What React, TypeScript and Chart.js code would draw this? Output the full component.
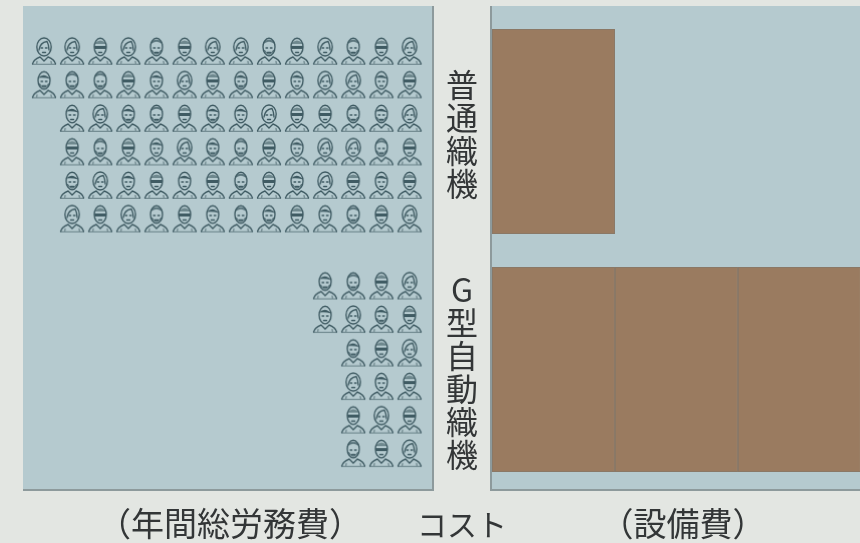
import React, { useEffect, useRef } from "react";
import { Chart, registerables } from "chart.js";

Chart.register(...registerables);

// Labour rows: each digit list is one row, one worker per entry, codes pick the portrait.
const plainLoomRows = [
  [1, 1, 2, 1, 4, 2, 1, 1, 4, 2, 1, 4, 2, 1],
  [0, 4, 4, 2, 3, 1, 2, 0, 2, 3, 1, 1, 3, 2],
  [3, 1, 0, 4, 2, 0, 3, 1, 2, 2, 4, 0, 1],
  [2, 4, 2, 3, 1, 0, 4, 2, 3, 1, 1, 4, 2],
  [0, 1, 3, 2, 3, 2, 4, 2, 0, 1, 2, 3, 2],
  [1, 2, 1, 4, 2, 3, 4, 0, 2, 3, 4, 2, 1],
];
const autoLoomRows = [
  [0, 4, 2, 1],
  [3, 1, 0, 2],
  [0, 2, 1],
  [1, 3, 2],
  [2, 1, 2],
  [4, 2, 1],
];
const groupGapRows = 1;

const loomCategories = [
  ["普", "通", "織", "機"],
  ["G", "型", "自", "動", "織", "機"],
];
const equipmentUnits = [1, 3];

const labourTitle = "（年間総労務費）";
const equipmentTitle = "（設備費）";
const costLabel = "コスト";

const PAGE = "#e3e6e2";
const PANEL = "#b5cacf";
const BAR = "#9a7b60";
const BAR_EDGE = "#8a7866";
const INK = "#333637";
const FONT = '"Noto Sans CJK JP", "Noto Sans", sans-serif';

function makeIcon(variant: number) {
  const c = document.createElement("canvas");
  c.width = 28;
  c.height = 30;
  const g = c.getContext("2d")!;
  g.strokeStyle = "#3f5b63";
  g.fillStyle = "#3f5b63";
  g.lineWidth = 1.35;
  g.lineCap = "round";
  const cx = 14;
  // shoulders
  g.beginPath();
  g.moveTo(2.5, 28);
  g.quadraticCurveTo(3.5, 23.5, 10, 21);
  g.lineTo(14, 25);
  g.lineTo(18, 21);
  g.quadraticCurveTo(24.5, 23.5, 25.5, 28);
  g.stroke();
  g.beginPath();
  g.moveTo(6.5, 28);
  g.lineTo(7, 25.5);
  g.moveTo(21.5, 28);
  g.lineTo(21, 25.5);
  g.moveTo(3, 28.3);
  g.lineTo(25, 28.3);
  g.globalAlpha = 0.55;
  g.stroke();
  g.globalAlpha = 1;
  // head
  g.beginPath();
  g.ellipse(cx, 11, variant === 1 ? 7.2 : 6, variant === 1 ? 9 : 8.8, 0, 0, Math.PI * 2);
  g.stroke();
  // face inner
  g.beginPath();
  g.moveTo(cx - 3, 12);
  g.lineTo(cx - 1.4, 12);
  g.moveTo(cx + 1.4, 12);
  g.lineTo(cx + 3, 12);
  g.moveTo(cx - 1.5, 16.5);
  g.lineTo(cx + 1.5, 16.5);
  g.stroke();
  if (variant === 0 || variant === 3) {
    g.beginPath();
    g.moveTo(cx - 6, 8.5);
    g.quadraticCurveTo(cx, 2.5, cx + 6, 9.5);
    g.quadraticCurveTo(cx, 7.5, cx - 6, 8.5);
    g.fill();
  }
  if (variant === 1) {
    g.beginPath();
    g.moveTo(cx - 5, 14);
    g.quadraticCurveTo(cx - 4, 6.5, cx + 3, 5.5);
    g.quadraticCurveTo(cx + 5, 9, cx + 5, 14);
    g.stroke();
  }
  if (variant === 2) {
    g.beginPath();
    g.moveTo(cx - 6.4, 8);
    g.quadraticCurveTo(cx, 1, cx + 6.4, 8);
    g.closePath();
    g.globalAlpha = 0.6;
    g.fill();
    g.globalAlpha = 1;
    g.fillRect(cx - 6, 10, 12, 3);
  }
  if (variant === 0 || variant === 4) {
    g.beginPath();
    g.moveTo(cx - 4.5, 14.5);
    g.quadraticCurveTo(cx, 21.5, cx + 4.5, 14.5);
    g.globalAlpha = 0.75;
    g.stroke();
    g.globalAlpha = 1;
  }
  if (variant === 4) {
    g.beginPath();
    g.moveTo(cx - 5, 6.5);
    g.quadraticCurveTo(cx, 3, cx + 5, 6.5);
    g.globalAlpha = 0.75;
    g.lineWidth = 2;
    g.stroke();
    g.globalAlpha = 1;
  }
  return c;
}

function rowsToPoints(rows: number[][], startRow: number) {
  return rows.flatMap((row, r) =>
    row.map((v, i) => ({ x: row.length - 1 - i, y: startRow + r, v }))
  );
}

export default function App() {
  const leftRef = useRef<HTMLCanvasElement>(null);
  const rightRef = useRef<HTMLCanvasElement>(null);

  useEffect(() => {
    const icons = [0, 1, 2, 3, 4].map(makeIcon);
    const points = [
      ...rowsToPoints(plainLoomRows, 0),
      ...rowsToPoints(autoLoomRows, plainLoomRows.length + groupGapRows),
    ];

    const left = new Chart(leftRef.current!, {
      type: "scatter",
      data: {
        datasets: [
          {
            data: points as any,
            pointRadius: 13,
            pointStyle: (ctx: any) => icons[ctx.raw.v],
            clip: false,
          } as any,
        ],
      },
      options: {
        animation: false,
        responsive: false,
        layout: { autoPadding: false, padding: { left: 28, right: 3, top: 8, bottom: 0 } },
        plugins: { legend: { display: false }, tooltip: { enabled: false } },
        scales: {
          x: {
            type: "linear",
            reverse: true,
            min: -0.8,
            max: 13.57,
            grid: { display: false },
            border: { display: false },
            ticks: { display: false },
            afterFit: (s: any) => {
              s.height = 52;
            },
            title: {
              display: true,
              text: labourTitle,
              color: INK,
              font: { family: FONT, size: 33 },
              padding: { top: 0, bottom: 0 },
            },
          },
          y: {
            type: "linear",
            reverse: true,
            min: -1.28,
            max: 13.13,
            display: false,
          },
        },
      },
    });

    const right = new Chart(rightRef.current!, {
      type: "bar",
      data: {
        labels: loomCategories as any,
        datasets: [0, 1, 2].map((k) => ({
          data: equipmentUnits.map((u) => (u > k ? 1 : null)),
          backgroundColor: BAR,
          borderColor: BAR_EDGE,
          borderWidth: 1,
          borderSkipped: false,
          barPercentage: 0.861,
          categoryPercentage: 1,
        })) as any,
      },
      options: {
        indexAxis: "y",
        animation: false,
        responsive: false,
        layout: { autoPadding: false, padding: { left: 0, right: 0, top: 12.5, bottom: 0 } },
        plugins: { legend: { display: false }, tooltip: { enabled: false } },
        scales: {
          x: {
            stacked: true,
            min: 0,
            max: 3.106,
            grid: { display: false },
            border: { display: false },
            ticks: { display: false },
            afterFit: (s: any) => {
              s.height = 54.5;
            },
            title: {
              display: true,
              text: equipmentTitle,
              color: INK,
              font: { family: FONT, size: 33 },
              padding: { top: 0, bottom: 0 },
            },
          },
          y: {
            stacked: true,
            grid: { display: false, drawTicks: false },
            border: { display: false },
            afterFit: (s: any) => {
              s.width = 56;
              s.paddingTop = 0;
              s.paddingBottom = 0;
            },
            ticks: {
              autoSkip: false,
              crossAlign: "center",
              padding: 14,
              labelOffset: 2.5,
              color: INK,
              font: { family: FONT, size: 32, lineHeight: 1.03 },
            },
          },
        },
      },
    });

    return () => {
      left.destroy();
      right.destroy();
    };
  }, []);

  const panel = (l: number, w: number, edges: React.CSSProperties): React.CSSProperties => ({
    position: "absolute",
    left: l,
    top: 6,
    width: w,
    height: 485,
    boxSizing: "border-box",
    background: PANEL,
    borderBottom: "2px solid #8d9a9c",
    ...edges,
  });

  return (
    <div
      style={{
        position: "fixed",
        inset: 0,
        width: 860,
        height: 543,
        overflow: "hidden",
        background: PAGE,
        filter: "blur(0.45px)",
      }}
    >
      <div style={panel(23, 411, { borderRight: "2px solid #8d9a9c" })} />
      <div style={panel(490, 370, { borderLeft: "2px solid #8d9a9c" })} />
      <canvas
        ref={leftRef}
        width={435}
        height={543}
        style={{ position: "absolute", left: 0, top: 0 }}
      />
      <canvas
        ref={rightRef}
        width={438}
        height={543}
        style={{ position: "absolute", left: 436, top: 0 }}
      />
      <div
        style={{
          position: "absolute",
          left: 417,
          top: 504,
          width: 90,
          textAlign: "center",
          font: `30px/38px ${FONT}`,
          color: INK,
          whiteSpace: "nowrap",
        }}
      >
        {costLabel}
      </div>
    </div>
  );
}
